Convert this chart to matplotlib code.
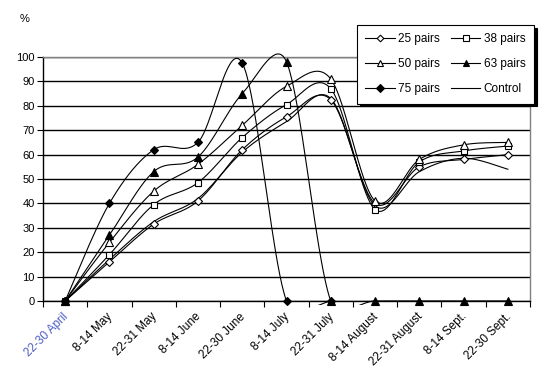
import numpy as np
import matplotlib
matplotlib.use("Agg")
import matplotlib.pyplot as plt
from matplotlib.patches import Rectangle
from matplotlib.lines import Line2D
from matplotlib.transforms import ScaledTranslation

categories = ["22-30 April", "8-14 May", "22-31 May", "8-14 June", "22-30 June",
              "8-14 July", "22-31 July", "8-14 August", "22-31 August",
              "8-14 Sept.", "22-30 Sept."]
pairs25 = [0, 16, 31.5, 41, 62, 75.5, 82.5, 40, 55, 58, 60]
pairs38 = [0, 19, 39.5, 48.5, 67, 80.5, 87, 37.5, 57, 61.5, 63.5]
pairs50 = [0, 24, 45, 56, 72, 88, 91, 41, 58, 64, 65]
pairs63 = [0, 27, 53, 59, 85, 98, 0, 0, 0, 0, 0]
pairs75 = [0, 40, 62, 65, 97.5, 0, 0]
control = [0, 17, 32.5, 42, 61, 73.5, 83, 39, 53, 58.5, 54]

plt.rcParams['font.family'] = ['Liberation Sans', 'DejaVu Sans']
plt.rcParams['font.size'] = 8

fig = plt.figure(figsize=(5.44, 3.69), dpi=100)
ax = fig.add_axes([43/544, 1-301/369, (530-43)/544, (301-57)/369])
n = len(categories)
ax.set_xlim(-0.5, n-0.5)
ax.set_ylim(0, 100)
fig.canvas.draw()
bb = ax.get_window_extent()
sx = bb.width / n
sy = bb.height / 100.0


def smooth(vals):
    pts = np.array([[i, v] for i, v in enumerate(vals)], dtype=float)
    m = len(pts)
    out = [pts[0]]
    scale = np.array([sx, sy])
    for i in range(m-1):
        P1, P2 = pts[i], pts[i+1]
        P0 = pts[i-1] if i > 0 else P1
        P3 = pts[i+2] if i+2 < m else P2
        d12 = np.linalg.norm((P2-P1)*scale)
        d02 = np.linalg.norm((P2-P0)*scale)
        d13 = np.linalg.norm((P3-P1)*scale)
        f0 = 1/6 if d02/6 < d12/2 else (d12/d02/2 if d02 > 0 else 0)
        f1 = 1/6 if d13/6 < d12/2 else (d12/d13/2 if d13 > 0 else 0)
        C1 = P1 + f0*(P2-P0)
        C2 = P2 - f1*(P3-P1)
        t = np.linspace(0, 1, 40)[1:, None]
        seg = ((1-t)**3)*P1 + 3*t*(1-t)**2*C1 + 3*t**2*(1-t)*C2 + t**3*P2
        out.extend(seg)
    return np.array(out)


clip = Rectangle((-0.5, -1.8), n, 110, transform=ax.transData)

series = [
    ("25 pairs", pairs25, 'D', 'white', 4.0),
    ("38 pairs", pairs38, 's', 'white', 5.0),
    ("50 pairs", pairs50, '^', 'white', 5.5),
    ("63 pairs", pairs63, '^', 'black', 5.5),
    ("75 pairs", pairs75, 'D', 'black', 4.5),
    ("Control", control, None, None, 0),
]

ax.grid(axis='y', color='black', lw=1.0)
ax.set_axisbelow(True)

handles = {}
for name, vals, mk, fc, ms in series:
    curve = smooth(vals)
    ln, = ax.plot(curve[:, 0], curve[:, 1], color='black', lw=0.8, zorder=3)
    ln.set_clip_path(clip)
    if mk is not None:
        ax.plot(range(len(vals)), vals, ls='none', marker=mk, mfc=fc, mec='black',
                mew=0.8, ms=ms, zorder=4, clip_on=False)
    handles[name] = Line2D([], [], color='black', lw=0.8, marker=mk,
                           mfc=fc, mec='black', mew=0.8, ms=ms*0.85, label=name)

ax.set_yticks(range(0, 101, 10))
ax.tick_params(axis='y', direction='out', length=4, width=0.8, pad=2, labelsize=8)
ax.set_xticks(range(n))
ax.set_xticks(np.arange(-0.5, n, 1.0), minor=True)
ax.tick_params(axis='x', which='major', length=0, pad=7)
ax.tick_params(axis='x', which='minor', direction='out', length=4, width=0.8, color='black')
ax.set_xticklabels(categories, rotation=45, ha='right', va='top',
                   rotation_mode='anchor', fontsize=8.5)
off = ScaledTranslation(-3/100, 0, fig.dpi_scale_trans)
for lab in ax.get_xticklabels():
    lab.set_transform(lab.get_transform() + off)
ax.get_xticklabels()[0].set_color('#4a5bc4')

for s in ['top', 'right']:
    ax.spines[s].set_color('#808080')
    ax.spines[s].set_linewidth(1.0)
for s in ['left', 'bottom']:
    ax.spines[s].set_color('black')
    ax.spines[s].set_linewidth(1.0)

fig.text(25/544, 1-19/369, '%', ha='center', va='center', fontsize=8)

order = ["25 pairs", "50 pairs", "75 pairs", "38 pairs", "63 pairs", "Control"]
leg = fig.legend(handles=[handles[k] for k in order], ncol=2, loc='upper left',
                 bbox_to_anchor=(357/544, 1-25/369), fontsize=8.5,
                 frameon=True, fancybox=False, edgecolor='black',
                 handlelength=2.5, handletextpad=0.3, columnspacing=0.9,
                 labelspacing=1.1, borderpad=0.7, borderaxespad=0,
                 shadow={'color': 'black', 'alpha': 1.0})
leg.get_frame().set_linewidth(0.8)

fig.savefig('out.png', dpi=100)
